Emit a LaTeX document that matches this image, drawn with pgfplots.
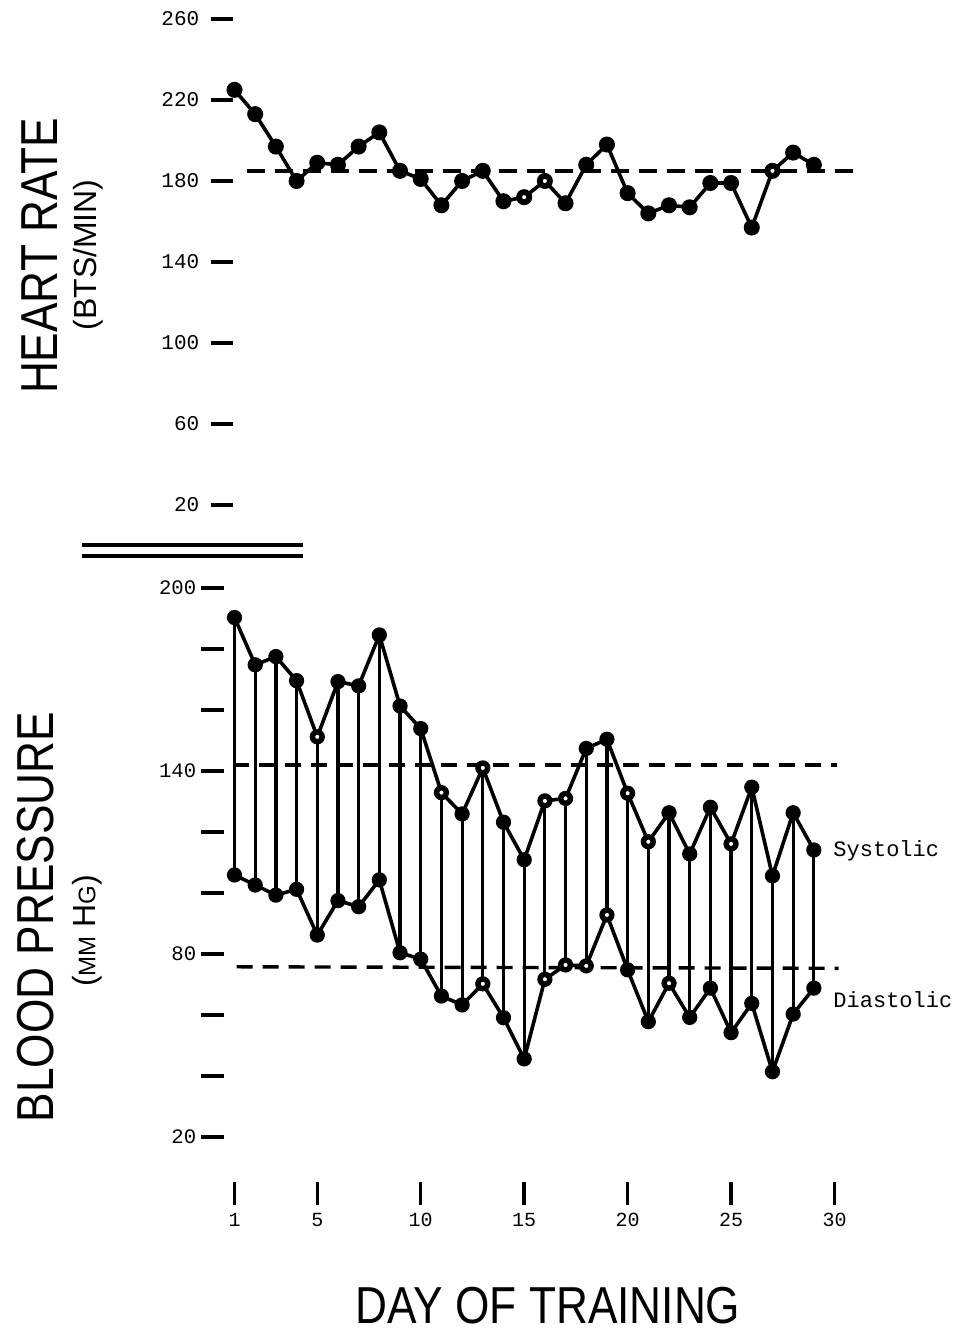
\documentclass[border=0pt]{standalone}
\usepackage{fontspec}
\usepackage{pgfplots}
\pgfplotsset{compat=1.18}
\usepackage{pgfplotstable}
\setmainfont{Liberation Sans}
\newfontfamily\titlefont[FakeStretch=0.85]{Liberation Sans}
\newfontfamily\subfont{Liberation Sans}
\newfontfamily\tickfont{Liberation Mono}

\pgfplotstableread{
day hr
1 225
2 213
3 197
4 180
5 189
6 188
7 197
8 204
9 185
10 181
11 168
12 180
13 185
14 170
15 172
16 180
17 169
18 188
19 198
20 174
21 164
22 168
23 167
24 179
25 179
26 157
27 185
28 194
29 188
}\hrdata

\pgfplotstableread{
day sys dia
1 190.3 105.9
2 174.8 102.6
3 177.5 99.3
4 169.6 101.2
5 151.2 86.2
6 169.3 97.5
7 167.9 95.5
8 184.6 104.3
9 161.3 80.4
10 153.9 78.3
11 132.9 66.2
12 125.9 63.3
13 141.0 70.2
14 123.2 59.1
15 110.9 45.6
16 130.2 71.7
17 131.0 76.4
18 147.4 76.1
19 150.4 92.8
20 132.7 74.8
21 116.8 57.8
22 126.3 70.4
23 112.8 59.2
24 128.1 68.8
25 116.1 54.2
26 134.7 63.8
27 105.6 41.4
28 126.3 60.3
29 114.1 68.8
}\bpdata

\begin{document}
\begin{tikzpicture}
\useasboundingbox (0,0) rectangle (478.5pt,668pt);
\fill[white] (0,0) rectangle (478.5pt,668pt);

% ---------- Heart rate panel ----------
\begin{axis}[
  at={(105.35pt,395.25pt)}, anchor=south west,
  x=10.345pt, y=1.0125pt,
  xmin=-0.15, xmax=31.5, ymin=0, ymax=265,
  axis x line=none, axis y line*=left,
  axis line style={draw=none},
  ytick={20,60,100,140,180,220,260},
  yticklabels={20,60,100,140,180,220,260},
  tick align=inside, major tick length=11pt,
  major tick style={black, line width=1.7pt},
  yticklabel style={font=\tickfont\fontsize{10.5}{12}\selectfont, inner sep=0pt, xshift=-5.5pt},
  clip=false,
]
\addplot[black, line width=1.7pt, dash pattern=on 9pt off 5pt] coordinates {(1.6,185) (30.9,185)};
\addplot[black, line width=1.8pt, mark=*, mark size=3.1pt, mark options={solid, fill=black}] table[x=day,y=hr]{\hrdata};
\addplot[only marks, mark=*, mark size=1.3pt, mark options={draw=none, fill=white}] coordinates {(15,172) (16,180) (27,185)};
\end{axis}

% ---------- Blood pressure panel ----------
\begin{axis}[
  at={(100.5pt,65.5pt)}, anchor=south west,
  x=10.345pt, y=1.525pt,
  xmin=-0.62, xmax=31.5, ymin=-2.3, ymax=205,
  axis x line*=bottom, axis y line*=left,
  axis line style={draw=none},
  xtick={1,5,10,15,20,25,30},
  xticklabels={1,5,10,15,20,25,30},
  ytick={20,40,60,80,100,120,140,160,180,200},
  yticklabels={20,,,80,,,140,,,200},
  tick align=inside, major tick length=11.5pt,
  major tick style={black, line width=1.7pt},
  yticklabel style={font=\tickfont\fontsize{10.3}{12}\selectfont, inner sep=0pt, xshift=-2.2pt},
  xticklabel style={font=\tickfont\fontsize{10}{12}\selectfont, inner sep=0pt, yshift=-4pt},
  clip=false,
]
\addplot[black, line width=1.7pt, dash pattern=on 8pt off 5pt] coordinates {(0.93,142) (30.1,142)};
\addplot[black, line width=1.7pt, dash pattern=on 8pt off 5pt] coordinates {(1.1,75.8) (30.2,75.3)};
\addplot[only marks, mark=none, forget plot,
  error bars/.cd, y dir=minus, y explicit, error mark=none,
  error bar style={black, line width=1.6pt}]
  table[x=day, y=sys, y error expr=\thisrow{sys}-\thisrow{dia}]{\bpdata};
\addplot[black, line width=1.8pt, mark=*, mark size=2.9pt, mark options={solid, fill=black}] table[x=day,y=sys]{\bpdata};
\addplot[black, line width=1.8pt, mark=*, mark size=2.9pt, mark options={solid, fill=black}] table[x=day,y=dia]{\bpdata};
\addplot[only marks, mark=*, mark size=1.3pt, mark options={draw=none, fill=white}] coordinates {
  (5,151.2) (11,132.9) (13,141.0) (16,130.2) (17,131.0) (20,132.7) (21,116.8) (25,116.1)
  (13,70.2) (16,71.7) (17,76.4) (18,76.1) (19,92.8) (22,70.4)};
\node[anchor=west, inner sep=0pt, font=\tickfont\fontsize{11}{13}\selectfont] at (axis cs:29.93,113.8) {Systolic};
\node[anchor=west, inner sep=0pt, font=\tickfont\fontsize{11}{13}\selectfont] at (axis cs:29.93,64.9) {Diastolic};
\end{axis}

% ---------- separator ----------
\draw[black, line width=1.7pt] (41pt,395.5pt) -- (151.5pt,395.5pt);
\draw[black, line width=1.7pt] (41pt,390pt) -- (151.5pt,390pt);

% ---------- titles ----------
\node[rotate=90, inner sep=0pt, font=\titlefont\fontsize{26}{30}\selectfont] at (20pt,540pt) {HEART RATE};
\node[rotate=90, inner sep=0pt, font=\subfont\fontsize{16}{19}\selectfont] at (44pt,540.5pt) {(BTS/MIN)};
\node[rotate=90, inner sep=0pt, font=\titlefont\fontsize{26}{30}\selectfont] at (18pt,209.5pt) {BLOOD PRESSURE};
\node[rotate=90, inner sep=0pt, font=\subfont\fontsize{16}{19}\selectfont] at (43.5pt,202.5pt) {({\fontsize{12}{14}\selectfont MM} H{\fontsize{12}{14}\selectfont G})};
\node[inner sep=0pt, font=\titlefont\fontsize{26}{30}\selectfont] at (274pt,15pt) {DAY OF TRAINING};
\end{tikzpicture}
\end{document}
